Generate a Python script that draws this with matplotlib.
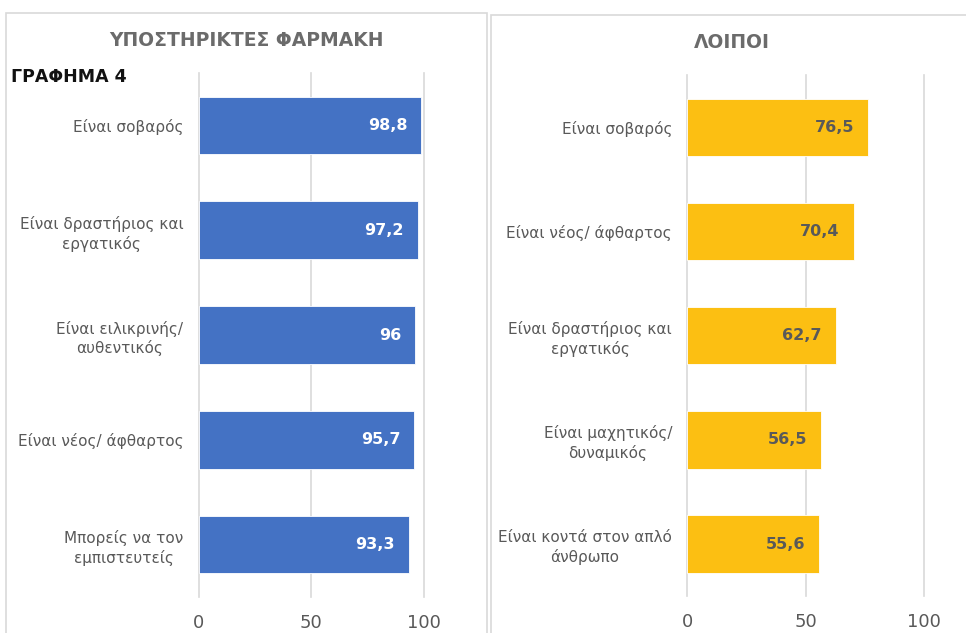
import matplotlib.pyplot as plt
from matplotlib.patches import Rectangle

# data
left_labels = ['Είναι σοβαρός', 'Είναι δραστήριος και\nεργατικός', 'Είναι ειλικρινής/\nαυθεντικός',
               'Είναι νέος/ άφθαρτος', 'Μπορείς να τον\nεμπιστευτείς']
left_values = [98.8, 97.2, 96, 95.7, 93.3]

right_labels = ['Είναι σοβαρός', 'Είναι νέος/ άφθαρτος', 'Είναι δραστήριος και\nεργατικός',
                'Είναι μαχητικός/\nδυναμικός', 'Είναι κοντά στον απλό\nάνθρωπο']
right_values = [76.5, 70.4, 62.7, 56.5, 55.6]

x_ticks = [0, 50, 100]

W, H = 966, 633
fig = plt.figure(figsize=(W / 100, H / 100), dpi=100)
fig.patch.set_facecolor('white')

gray = '#595959'
grid = '#d9d9d9'

# panel frames
fig.add_artist(Rectangle((6 / W, -0.05), (487 - 6) / W, 1 - 12.5 / H + 0.05, transform=fig.transFigure,
                         fill=False, edgecolor=grid, linewidth=1.2))
fig.add_artist(Rectangle((491 / W, -0.05), 0.5, 1 - 15 / H + 0.05, transform=fig.transFigure,
                         fill=False, edgecolor=grid, linewidth=1.2))


def fmt(v):
    s = ('%.1f' % v).rstrip('0').rstrip('.')
    return s.replace('.', ',')


def panel(rect, labels, values, color, txtcolor):
    ax = fig.add_axes(rect)
    y = list(range(len(labels)))
    ax.barh(y, values, height=0.55, color=color, edgecolor='white', linewidth=0.6, zorder=2)
    ax.set_xlim(0, 100)
    ax.set_ylim(len(labels) - 0.5, -0.5)
    ax.set_xticks(x_ticks)
    ax.set_xticklabels([str(t) for t in x_ticks], fontsize=13, color=gray)
    ax.set_yticks(y)
    ax.set_yticklabels(labels, fontsize=11, color=gray, linespacing=1.3)
    for lab in ax.get_yticklabels():
        lab.set_multialignment('center')
    ax.tick_params(axis='both', length=0)
    ax.tick_params(axis='y', pad=11)
    ax.tick_params(axis='x', pad=12)
    ax.grid(axis='x', color=grid, linewidth=1.2, zorder=0)
    for gl in ax.get_xgridlines():
        gl.set_clip_on(False)
    for s in ax.spines.values():
        s.set_visible(False)
    for yi, v in zip(y, values):
        ax.annotate(fmt(v), (v, yi), xytext=(-10, 0), textcoords='offset points', ha='right',
                    va='center', fontsize=11.5, fontweight='bold', color=txtcolor, zorder=3)
    return ax


panel([198.7 / W, 1 - 597 / H, (424 - 198.7) / W, (597 - 73.1) / H],
      left_labels, left_values, '#4472C4', 'white')
panel([687.3 / W, 1 - 596.2 / H, (923.7 - 687.3) / W, (596.2 - 75.2) / H],
      right_labels, right_values, '#FCBF12', gray)

fig.text(246 / W, 1 - 41 / H, 'ΥΠΟΣΤΗΡΙΚΤΕΣ ΦΑΡΜΑΚΗ', ha='center', va='center',
         fontsize=13.5, fontweight='bold', color='#6b6b6b')
fig.text(732 / W, 1 - 43 / H, 'ΛΟΙΠΟΙ', ha='center', va='center',
         fontsize=13.5, fontweight='bold', color='#6b6b6b')
fig.text(11 / W, 1 - 77 / H, 'ΓΡΑΦΗΜΑ 4', ha='left', va='center',
         fontsize=12.5, fontweight='heavy', color='#111111')

fig.savefig('out.png', dpi=100)
